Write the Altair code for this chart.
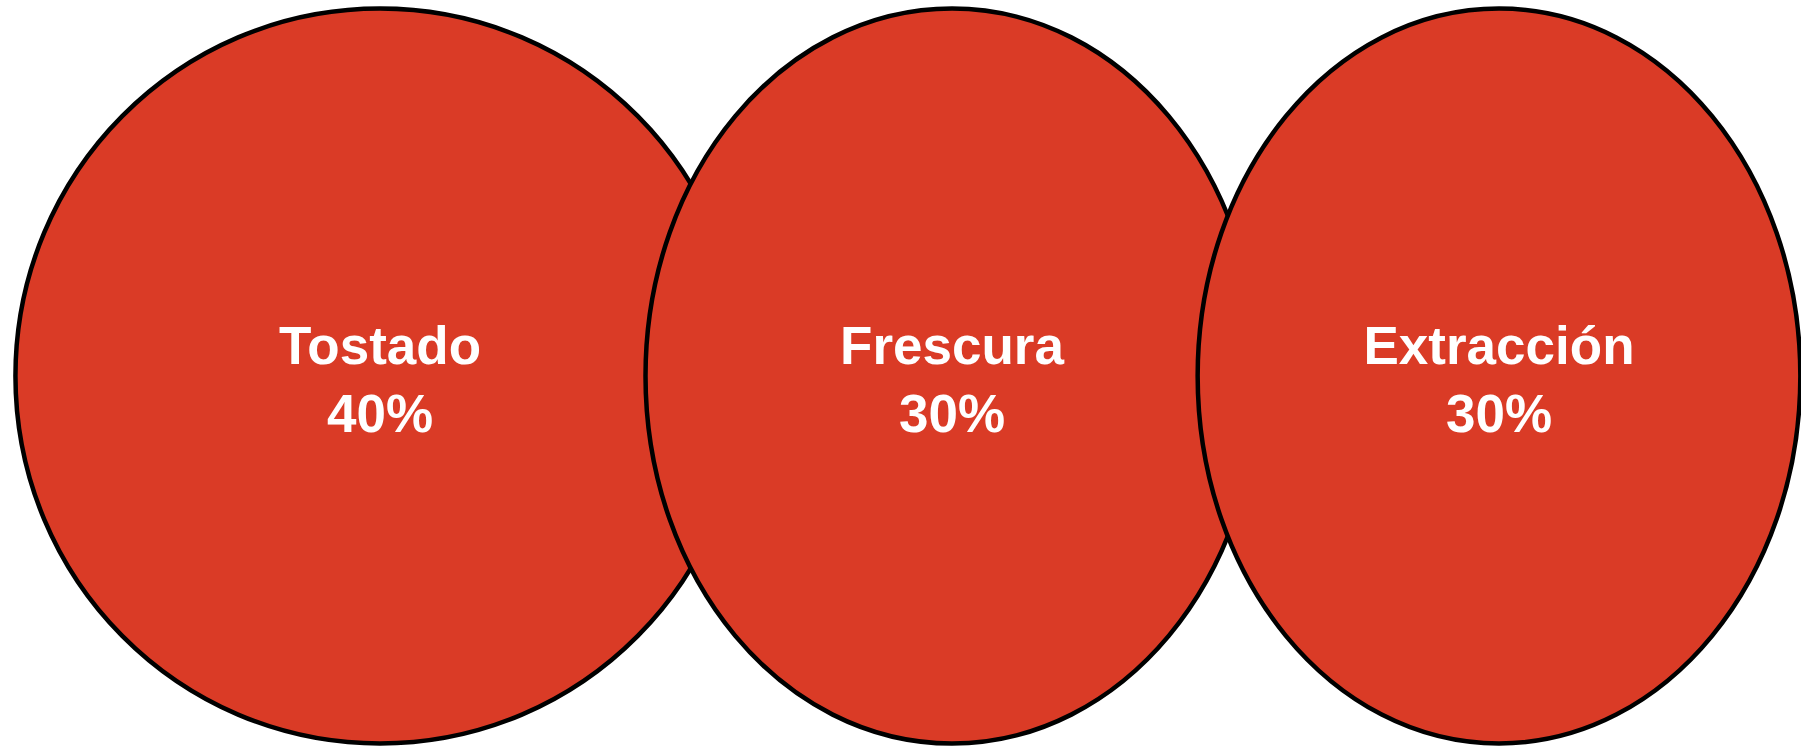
import altair as alt
import pandas as pd

# Factores y su peso en la nota final
factores = ["Tostado", "Frescura", "Extracción"]
pesos = [40, 30, 30]

df = pd.DataFrame({"factor": factores, "peso": pesos})
df["etiqueta"] = df["peso"].astype(str) + "%"

ROJO = "#DA3B26"
FUENTE = "Helvetica, Liberation Sans, Arial, sans-serif"


def elipse(rx):
    """Ellipse outline inside the unit box used by Vega custom symbols."""
    return f"M-{rx},0A{rx},1,0,1,0,{rx},0A{rx},1,0,1,0,-{rx},0Z"


# horizontal placement of each ellipse (row 1, 2, 3)
x_enc = alt.X(
    "orden:Q",
    scale=alt.Scale(domain=[1, 2, 3], range=[380, 952, 1499]),
    axis=None,
)

base = alt.Chart(df).transform_window(orden="row_number()")

elipses = base.mark_point(
    filled=True,
    fill=ROJO,
    stroke="black",
    strokeWidth=4.5,
    opacity=1,
    size=540225,
    yOffset=1,
).encode(
    x=x_enc,
    shape=alt.Shape(
        "factor:N",
        scale=alt.Scale(
            domain=factores,
            range=[elipse(0.992), elipse(0.834), elipse(0.82)],
        ),
        legend=None,
    ),
)

nombres = base.mark_text(
    font=FUENTE,
    fontWeight="bold",
    fontSize=53,
    color="white",
    baseline="alphabetic",
    align="center",
    dy=-11,
).encode(x=x_enc, text="factor:N")

porcentajes = base.mark_text(
    font=FUENTE,
    fontWeight="bold",
    fontSize=53,
    color="white",
    baseline="alphabetic",
    align="center",
    dy=57,
).encode(x=x_enc, text="etiqueta:N")

chart = (
    alt.layer(elipses, nombres, porcentajes)
    .properties(width=1801, height=750, padding=0, autosize="none", background="white")
    .configure_view(stroke=None)
)

chart.save("out.html", embed_options={"renderer": "svg", "actions": False})
